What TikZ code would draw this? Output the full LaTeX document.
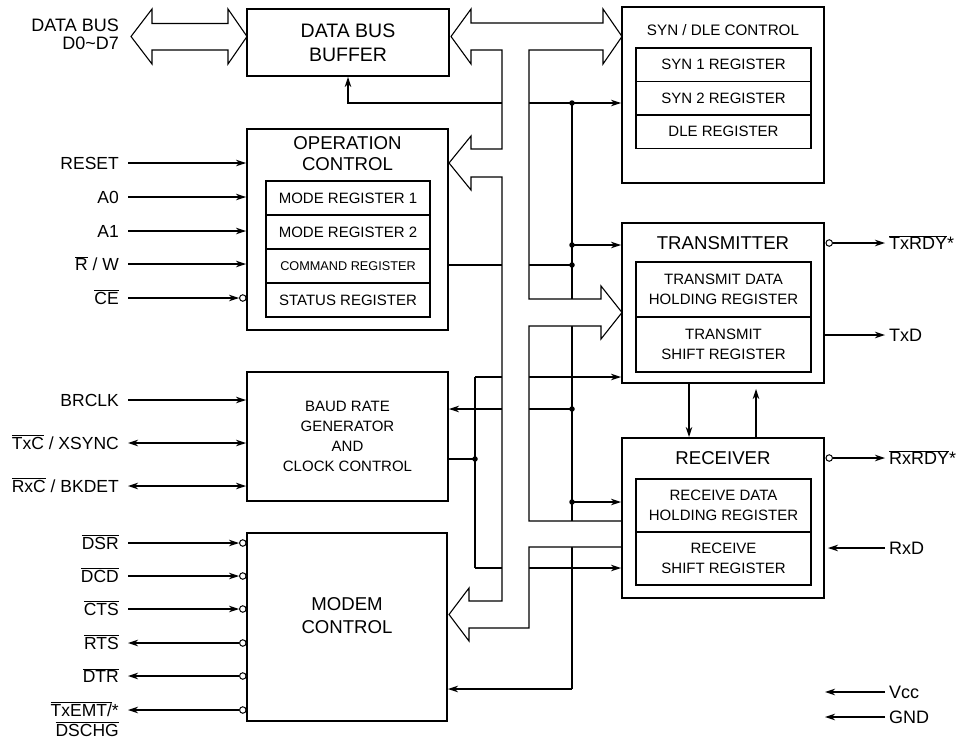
\documentclass[tikz,border=0pt]{standalone}
\usepackage{fontspec}
\setmainfont{Liberation Sans}
\usetikzlibrary{arrows.meta,calc}
\pgfdeclarelayer{background}
\pgfsetlayers{background,main}
\newcommand{\ovl}[1]{$\overline{\mbox{#1}}$}
\begin{document}
\begin{tikzpicture}[x=1pt,y=-1pt,
 bigbox/.style={draw, line width=1.9pt, inner sep=0pt, fill=white},
 regbox/.style={draw, line width=1.7pt, inner sep=0pt, fill=white, align=center, font={\fontsize{15}{20.5}\selectfont}},
 wire/.style={line width=1.1pt},
 arr/.style={wire, -{Stealth[length=10pt,width=6.5pt,inset=3pt]}},
 barr/.style={wire, {Stealth[length=10pt,width=6.5pt,inset=3pt]}-{Stealth[length=10pt,width=6.5pt,inset=3pt]}},
 jdot/.style={circle, fill, inner sep=0pt, minimum size=5.5pt},
 inv/.style={circle, draw, line width=1pt, inner sep=0pt, minimum size=6.5pt, fill=white},
 lbl/.style={font={\fontsize{17.5}{21}\selectfont}, inner sep=0pt},
 rlbl/.style={font={\fontsize{18}{21}\selectfont}, inner sep=0pt},
 ttl/.style={font={\fontsize{18.6}{21}\selectfont}, inner sep=0pt, align=center},
 bus/.style={draw, line width=1.1pt, fill=white, line join=miter},
]
\useasboundingbox (0,0) rectangle (973,739);

% ---------------- boxes ----------------
\node[bigbox, minimum width=202pt, minimum height=67pt, align=center, font={\fontsize{19.5}{24}\selectfont}] (dbb) at (348,42.5) {DATA BUS\\BUFFER};

\node[bigbox, minimum width=201pt, minimum height=201pt] (opc) at (347.5,229.5) {};
\node[ttl] (opct) at (347.5,153.5) {OPERATION\\CONTROL};
\node[regbox, minimum width=164pt, minimum height=34pt] (mr1) at (348,198) {MODE REGISTER 1};
\node[regbox, minimum width=164pt, minimum height=34pt] (mr2) at (348,232) {MODE REGISTER 2};
\node[regbox, minimum width=164pt, minimum height=34pt, font={\fontsize{12.7}{15}\selectfont}] (cmr) at (348,266) {COMMAND REGISTER};
\node[regbox, minimum width=164pt, minimum height=34pt] (str) at (348,300) {STATUS REGISTER};

\node[bigbox, minimum width=201pt, minimum height=129pt, align=center, font={\fontsize{15}{20}\selectfont}] (brg) at (347.5,436.5) {BAUD RATE\\GENERATOR\\AND\\CLOCK CONTROL};

\node[bigbox, minimum width=200pt, minimum height=188pt] (mdm) at (347,627) {};
\node[ttl, font={\fontsize{18.6}{23}\selectfont}] (mdmt) at (347,615.5) {MODEM\\CONTROL};

\node[bigbox, minimum width=202pt, minimum height=176pt] (syn) at (723,95) {};
\node[inner sep=0pt, font={\fontsize{15.2}{18}\selectfont}] (synt) at (723,30) {SYN / DLE CONTROL};
\node[regbox, minimum width=175pt, minimum height=33.5pt] (s1) at (723.5,64.75) {SYN 1 REGISTER};
\node[regbox, minimum width=175pt, minimum height=33.5pt] (s2) at (723.5,98.25) {SYN 2 REGISTER};
\node[regbox, minimum width=175pt, minimum height=33.5pt] (dle) at (723.5,131.75) {DLE REGISTER};

\node[bigbox, minimum width=202pt, minimum height=160pt] (tx) at (723,303) {};
\node[ttl] (txt) at (723,243) {TRANSMITTER};
\node[regbox, minimum width=175pt, minimum height=55pt] (tdh) at (723.5,289.5) {TRANSMIT DATA\\HOLDING REGISTER};
\node[regbox, minimum width=175pt, minimum height=55pt] (tsr) at (723.5,344.5) {TRANSMIT\\SHIFT REGISTER};

\node[bigbox, minimum width=202pt, minimum height=160pt] (rx) at (723,518) {};
\node[ttl] (rxt) at (723,458) {RECEIVER};
\node[regbox, minimum width=175pt, minimum height=53pt] (rdh) at (723.5,505.5) {RECEIVE DATA\\HOLDING REGISTER};
\node[regbox, minimum width=175pt, minimum height=53pt] (rsr) at (723.5,558.5) {RECEIVE\\SHIFT REGISTER};

% ---------------- junction coordinates ----------------
\coordinate (ctop) at (572,103);
\coordinate (j245) at (572,245);
\coordinate (j265) at (572,265);
\coordinate (j409) at (572,409);
\coordinate (j502) at (572,502);
\coordinate (cbot) at (572,689);
\coordinate (ktop) at (475,377);
\coordinate (k459) at (475,459);
\coordinate (kbot) at (475,568);

\begin{pgfonlayer}{background}
\fill[white] (0,0) rectangle (973,739);
% control line
\draw[wire] (ctop) -- (cbot);
\draw[arr] (ctop) -- (ctop -| syn.west);
\draw[arr] (ctop) -| (dbb.south);
\draw[arr] (j245) -- (j245 -| tx.west);
\draw[wire] (j265) -- (j265 -| opc.east);
\draw[arr] (j409) -- (j409 -| brg.east);
\draw[arr] (j502) -- (j502 -| rx.west);
\draw[arr] (cbot) -- (cbot -| mdm.east);
% clock line
\draw[wire] (ktop) -- (kbot);
\draw[arr] (ktop) -- (ktop -| tx.west);
\draw[arr] (kbot) -- (kbot -| rx.west);
\draw[wire] (k459) -- (k459 -| brg.east);
% internal data bus
\draw[bus] (451,36.5) -- (471,9) -- (471,23) -- (603,23) -- (603,9) -- (622,36.5) -- (603,64) -- (603,50)
 -- (529,50) -- (529,299) -- (601,299) -- (601,286) -- (622,312.5) -- (601,339) -- (601,326)
 -- (529,326) -- (529,521) -- (622,521) -- (622,547) -- (529,547) -- (529,628)
 -- (469,628) -- (469,641) -- (449,614.5) -- (469,588) -- (469,601) -- (502,601)
 -- (502,177) -- (471,177) -- (471,190) -- (449,163) -- (471,136) -- (471,149) -- (502,149)
 -- (502,50) -- (471,50) -- (471,64) -- cycle;
% external data bus
\draw[bus] (131,36.5) -- (152,9) -- (152,23.5) -- (228,23.5) -- (228,9) -- (247,36.5) -- (228,64) -- (228,50) -- (152,50) -- (152,64) -- cycle;
\end{pgfonlayer}

\foreach \p in {ctop,j245,j265,j409,j502,k459} \node[jdot] at (\p) {};

% TX <-> RX
\draw[arr] ($(tx.south)+(-34,0)$) -- ($(rx.north)+(-34,0)$);
\draw[arr, shorten >=5pt] ($(rx.north)+(33,0)$) -- ($(tx.south)+(33,0)$);

% ---------------- left labels ----------------
\node[rlbl, anchor=base east] (ldb1) at (119,31.5) {DATA BUS};
\node[rlbl, anchor=base east] (ldb2) at (119,49.5) {D0\textasciitilde D7};

\node[lbl, anchor=base east] (lreset) at (119,169.3) {RESET};
\node[lbl, anchor=base east] (la0) at (119,203.3) {A0};
\node[lbl, anchor=base east] (la1) at (119,237.3) {A1};
\node[lbl, anchor=base east] (lrw) at (119,270.3) {\ovl{R} / W};
\node[lbl, anchor=base east] (lce) at (119,304.3) {\ovl{CE}};
\coordinate (preset) at (128,163);
\coordinate (pa0) at (128,197);
\coordinate (pa1) at (128,231);
\coordinate (prw) at (128,264);
\coordinate (pce) at (128,298);
\draw[arr] (preset) -- (preset -| opc.west);
\draw[arr] (pa0) -- (pa0 -| opc.west);
\draw[arr] (pa1) -- (pa1 -| opc.west);
\draw[arr] (prw) -- (prw -| opc.west);
\node[inv] (ice) at (242.8,298) {};
\draw[arr] (pce) -- (ice.west);

\node[lbl, anchor=base east] (lbrclk) at (119,406.3) {BRCLK};
\node[lbl, anchor=base east] (ltxc) at (119,449.3) {\ovl{TxC} / XSYNC};
\node[lbl, anchor=base east] (lrxc) at (119,492.3) {\ovl{RxC} / BKDET};
\coordinate (pbrclk) at (128,400);
\coordinate (ptxc) at (128,443);
\coordinate (prxc) at (128,486);
\draw[arr] (pbrclk) -- (pbrclk -| brg.west);
\draw[barr] (ptxc) -- (ptxc -| brg.west);
\draw[barr] (prxc) -- (prxc -| brg.west);

\node[lbl, anchor=base east] (ldsr) at (119,549.3) {\ovl{DSR}};
\node[lbl, anchor=base east] (ldcd) at (119,582.3) {\ovl{DCD}};
\node[lbl, anchor=base east] (lcts) at (119,615.3) {\ovl{CTS}};
\node[lbl, anchor=base east] (lrts) at (119,649.3) {\ovl{RTS}};
\node[lbl, anchor=base east] (ldtr) at (119,682.3) {\ovl{DTR}};
\node[lbl, anchor=base east] (ltxe) at (119,716.3) {\ovl{TxEMT/}*};
\node[lbl, anchor=base east] (ldsc) at (119,736.3) {\ovl{DSCHG}};
\coordinate (pdsr) at (128,543);
\coordinate (pdcd) at (128,576);
\coordinate (pcts) at (128,609);
\coordinate (prts) at (128,643);
\coordinate (pdtr) at (128,676);
\coordinate (ptxe) at (128,710);
\node[inv] (idsr) at (242.8,543) {};
\node[inv] (idcd) at (242.8,576) {};
\node[inv] (icts) at (242.8,609) {};
\node[inv] (irts) at (242.8,643) {};
\node[inv] (idtr) at (242.8,676) {};
\node[inv] (itxe) at (242.8,710) {};
\draw[arr] (pdsr) -- (idsr.west);
\draw[arr] (pdcd) -- (idcd.west);
\draw[arr] (pcts) -- (icts.west);
\draw[arr] (irts.west) -- (prts);
\draw[arr] (idtr.west) -- (pdtr);
\draw[arr] (itxe.west) -- (ptxe);

% ---------------- right labels ----------------
\node[rlbl, anchor=base west] (ltxrdy) at (889,249.5) {\ovl{TxRDY}*};
\node[rlbl, anchor=base west] (ltxd) at (889,341.5) {TxD};
\node[rlbl, anchor=base west] (lrxrdy) at (889,464.5) {\ovl{RxRDY}*};
\node[rlbl, anchor=base west] (lrxd) at (889,554.5) {RxD};
\node[rlbl, anchor=base west] (lvcc) at (889,698.5) {Vcc};
\node[rlbl, anchor=base west] (lgnd) at (889,723.5) {GND};
\coordinate (ptxrdy) at (885,243);
\coordinate (ptxd) at (885,335);
\coordinate (prxrdy) at (885,458);
\coordinate (prxd) at (885,548);
\coordinate (pvcc) at (885,692);
\coordinate (pgnd) at (885,717);
\coordinate (evcc) at (825,692);
\coordinate (egnd) at (825,717);
\node[inv] (itxrdy) at (829.2,243) {};
\node[inv] (irxrdy) at (829.2,458) {};
\draw[arr] (itxrdy.east) -- (ptxrdy);
\draw[arr] (irxrdy.east) -- (prxrdy);
\draw[arr] (ptxd -| tx.east) -- (ptxd);
\draw[arr, shorten >=3pt] (prxd) -- (prxd -| rx.east);
\draw[arr] (pvcc) -- (evcc);
\draw[arr] (pgnd) -- (egnd);
\end{tikzpicture}
\end{document}
